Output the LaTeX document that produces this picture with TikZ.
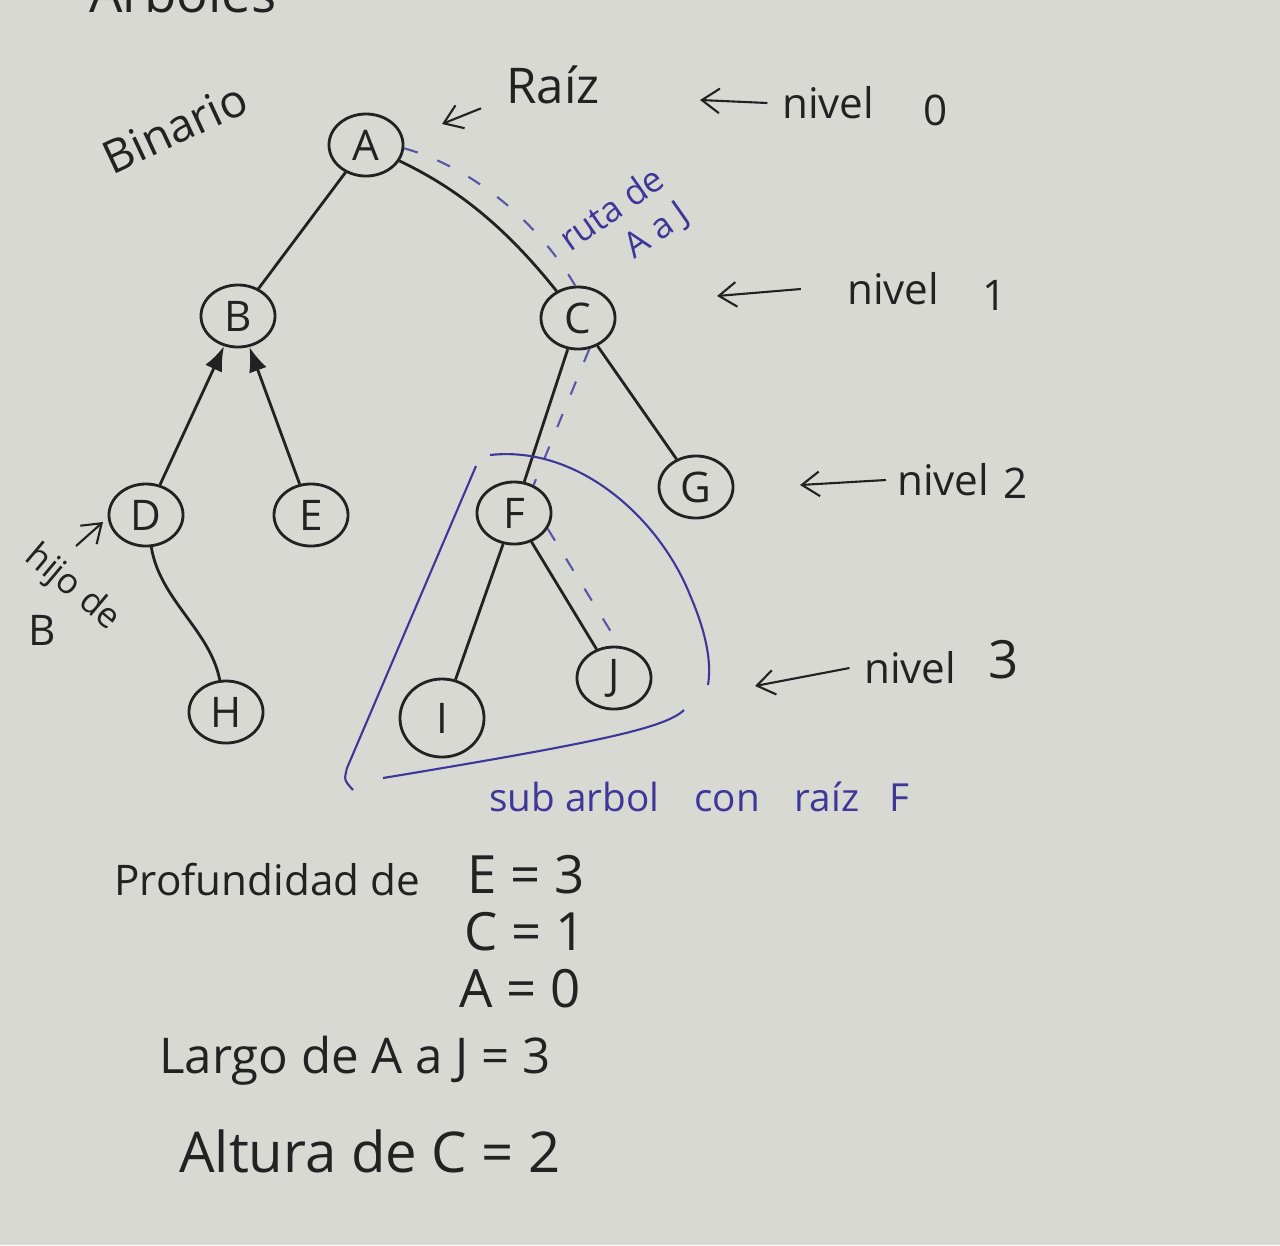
\documentclass[tikz,border=0pt]{standalone}
\usepackage{fontspec}
\setmainfont{Open Sans}
\usetikzlibrary{shapes.geometric,arrows.meta}

\definecolor{ink}{HTML}{222222}
\definecolor{blueink}{HTML}{3E3799}
\definecolor{paper}{HTML}{D9D9D4}

\tikzset{
	vertex/.style={draw=ink, thick, ellipse, minimum width=0.74cm, minimum height=0.62cm, inner sep=0pt, text=ink, font=\fontsize{12}{12}\selectfont},
	edge/.style={draw=ink, thick},
	ruta/.style={draw=blueink!85, semithick, dash pattern=on 4pt off 6pt},
	trazo/.style={draw=blueink, semithick},
	arr/.style={draw=ink, semithick, -{Straight Barb[length=5pt,width=7pt]}},
	hand/.style={text=ink, inner sep=1pt, font=\fontsize{12}{12}\selectfont},
	bluehand/.style={text=blueink, inner sep=1pt, font=\fontsize{12}{12}\selectfont},
}

\begin{document}
\begin{tikzpicture}[x=0.01cm, y=-0.01cm]
	\fill[paper] (0,0) rectangle (1280,1245);
	\useasboundingbox (0,0) rectangle (1280,1245);

	% titulo (cortado arriba)
	\node[hand, anchor=base west, font=\fontsize{15}{15}\selectfont] (titulo) at (85,12) {Arboles};
	\node[hand, rotate=25, font=\fontsize{13}{13}\selectfont] (binario) at (175,128) {Binario};

	% nodos
	\node[vertex] (A) at (366,145) {A};
	\node[vertex] (B) at (238,316) {B};
	\node[vertex] (C) at (578,318) {C};
	\node[vertex] (D) at (146,515) {D};
	\node[vertex] (E) at (311,515) {E};
	\node[vertex] (F) at (514,513) {F};
	\node[vertex] (G) at (696,487) {G};
	\node[vertex] (H) at (226,712) {H};
	\node[vertex, minimum width=0.84cm, minimum height=0.78cm] (I) at (442,718) {I};
	\node[vertex] (J) at (614,678) {J};

	% aristas
	\draw[edge] (A) -- (B);
	\draw[edge] (A) .. controls (450,185) and (500,220) .. (C);
	\draw[edge, -{Latex[length=7pt]}] (D) -- (B);
	\draw[edge, -{Latex[length=7pt]}] (E) -- (B);
	\draw[edge] (C) -- (F);
	\draw[edge] (C) -- (G);
	\draw[edge] (D) .. controls (160,600) and (210,630) .. (H);
	\draw[edge] (F) -- (I);
	\draw[edge] (F) -- (J);

	% ruta de A a J
	\draw[ruta] (A.-5) .. controls (475,168) and (540,225) .. (C.95);
	\draw[ruta] (C.-70) -- (F.55);
	\draw[ruta] (F.-25) -- (J.80);
	\node[bluehand, rotate=35, align=right, font=\fontsize{10}{12}\selectfont] (ruta) at (625,228) {ruta de\\A a J};

	% raiz
	\node[hand, font=\fontsize{14}{14}\selectfont] (raiz) at (553,85) {Raíz};
	\coordinate (praiz) at (442,124);
	\draw[arr] ([xshift=-6pt]raiz.south west) -- (praiz);

	% niveles
	\node[hand, anchor=west] (n0) at (778,103) {nivel};
	\node[hand] (v0) at (936,110) {0};
	\coordinate (p0) at (700,100);
	\draw[arr] ([xshift=-3pt]n0.west) -- (p0);

	\node[hand, anchor=west] (n1) at (843,289) {nivel};
	\node[hand] (v1) at (995,295) {1};
	\coordinate (p1) at (717,296);
	\draw[arr] ([xshift=-12pt]n1.west) -- (p1);

	\node[hand, anchor=west] (n2) at (893,480) {nivel};
	\node[hand] (v2) at (1016,483) {2};
	\coordinate (p2) at (800,485);
	\draw[arr] ([xshift=-2pt]n2.west) -- (p2);

	\node[hand, anchor=west] (n3) at (860,668) {nivel};
	\node[hand, font=\fontsize{15}{15}\selectfont] (v3) at (1004,660) {3};
	\coordinate (p3) at (755,686);
	\draw[arr] ([xshift=-3pt]n3.west) -- (p3);

	% hijo de B
	\node[hand, rotate=-40, font=\fontsize{10}{10}\selectfont] (hijo) at (72,588) {hijo de};
	\node[hand, font=\fontsize{12}{12}\selectfont] (hijoB) at (42,630) {B};
	\coordinate (qhijo) at (76,546);
	\coordinate (phijo) at (103,522);
	\draw[arr] (qhijo) -- (phijo);

	% subarbol con raiz F
	\draw[trazo] (476,466) -- (347,768) .. controls (344,780) .. (353,790);
	\draw[trazo] (490,455) .. controls (580,445) and (660,520) .. (690,595) .. controls (705,630) and (712,660) .. (708,685);
	\draw[trazo] (383,778) .. controls (600,742) and (665,728) .. (684,710);
	\node[bluehand, anchor=west, font=\fontsize{11}{11}\selectfont] (sub) at (485,797) {sub arbol\hspace{0.35cm}con\hspace{0.35cm}raíz\hspace{0.3cm}F};

	% medidas
	\node[hand, anchor=base west, font=\fontsize{12}{12}\selectfont] (prof) at (110,895) {Profundidad de};
	\node[hand, anchor=base west, font=\fontsize{15}{15}\selectfont] (profE) at (463,893) {E = 3};
	\node[hand, anchor=base west, font=\fontsize{15}{15}\selectfont] (profC) at (460,950) {C = 1};
	\node[hand, anchor=base west, font=\fontsize{15}{15}\selectfont] (profA) at (455,1007) {A = 0};
	\node[hand, anchor=base west, font=\fontsize{14}{14}\selectfont] (largo) at (155,1073) {Largo de A a J = 3};
	\node[hand, anchor=base west, font=\fontsize{16}{16}\selectfont] (altura) at (175,1172) {Altura de C = 2};
\end{tikzpicture}
\end{document}
